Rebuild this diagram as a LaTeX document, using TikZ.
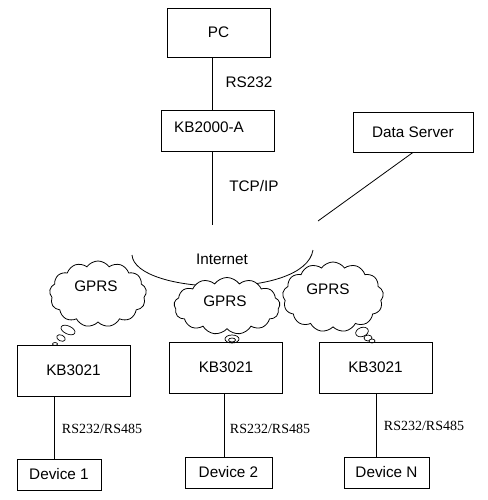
\documentclass[tikz,border=0pt]{standalone}
\usepackage{fontspec}
\setmainfont{Liberation Sans}
\newfontfamily\serifrs{Liberation Serif}
\usetikzlibrary{shapes.symbols,shapes.geometric}
\tikzset{
  boxnode/.style={draw, line width=0.8pt, inner sep=0pt, font=\fontsize{15.3}{17}\selectfont},
  lbl/.style={inner sep=0pt, font=\fontsize{15.3}{17}\selectfont},
  rslbl/.style={inner sep=0pt, font=\serifrs\fontsize{14}{16}\selectfont},
  conn/.style={line width=0.8pt},
  gprs/.style={cloud, cloud puffs=13, cloud puff arc=110, cloud ignores aspect, draw, line width=0.8pt, fill=white, inner sep=0pt, font=\fontsize{15.3}{17}\selectfont},
  bubble/.style={draw, line width=0.7pt, ellipse, fill=white, inner sep=0pt}
}
\begin{document}
\begin{tikzpicture}[x=1pt,y=-1pt]
\useasboundingbox[fill=white] (0,0) rectangle (487,500);
% top boxes
\node[boxnode, minimum width=103pt, minimum height=49pt] (pc) at (218.5,32.5) {PC};
\node[boxnode, minimum width=113pt, minimum height=41pt] (kba) at (217.5,130.5) {};
\node[lbl] (kbatext) at (209,127) {KB2000-A};
\node[boxnode, minimum width=120pt, minimum height=40pt] (ds) at (413,132) {Data Server};
\coordinate (xpc) at (212,0);
\coordinate (netl) at (212,225);
\coordinate (netr) at (318,221);
\draw[conn] (pc.south -| xpc) -- (kba.north -| xpc);
\draw[conn] (kba.south -| xpc) -- (netl);
\draw[conn] (ds.south) -- (netr);
\node[lbl] (rs232) at (249,82) {RS232};
\node[lbl] (tcpip) at (254,186) {TCP/IP};
% internet
\coordinate (il) at (132,255);
\coordinate (ir) at (313,250);
\draw[conn] (il) .. controls (135,295) and (305,300) .. (ir);
\node[lbl] (inet) at (222,259) {Internet};
% clouds
\node[gprs, minimum width=97pt, minimum height=66pt] (c1) at (98,294) {};
\node[lbl] (g1) at (96,286) {GPRS};
\node[gprs, minimum width=106pt, minimum height=57pt] (c2) at (227,306) {};
\node[lbl] (g2) at (225,301) {GPRS};
\node[gprs, minimum width=101pt, minimum height=70pt] (c3) at (333,297) {};
\node[lbl] (g3) at (328,289) {GPRS};
% thought bubbles
\node[bubble, minimum width=15pt, minimum height=8pt, rotate=-25] (b1a) at (68,330) {};
\node[bubble, minimum width=9pt, minimum height=6pt, rotate=-25] (b1b) at (61,338) {};
\node[bubble, minimum width=5pt, minimum height=3pt] (b1c) at (55,344) {};
\node[bubble, minimum width=14pt, minimum height=8pt] (b2a) at (232,339) {};
\node[bubble, minimum width=7pt, minimum height=4pt] (b2b) at (232,340) {};
\node[bubble, minimum width=13pt, minimum height=9pt, rotate=20] (b3a) at (362,332) {};
\node[bubble, minimum width=8pt, minimum height=6pt] (b3b) at (368,338) {};
\node[bubble, minimum width=6pt, minimum height=4pt] (b3c) at (372,341) {};
% KB3021 boxes
\node[boxnode, minimum width=113pt, minimum height=51pt] (k1) at (73.5,370.5) {KB3021};
\node[boxnode, minimum width=113pt, minimum height=51pt] (k2) at (226,367.5) {KB3021};
\node[boxnode, minimum width=113pt, minimum height=51pt] (k3) at (375.5,367.5) {KB3021};
% devices
\node[boxnode, minimum width=84pt, minimum height=31pt] (d1) at (59,474.5) {Device 1};
\node[boxnode, minimum width=87pt, minimum height=31pt] (d2) at (228.5,472.5) {Device 2};
\node[boxnode, minimum width=85pt, minimum height=31pt] (d3) at (386.5,472.5) {Device N};
\coordinate (x1) at (54,0);
\coordinate (x2) at (224,0);
\coordinate (x3) at (376,0);
\draw[conn] (k1.south -| x1) -- (d1.north -| x1);
\draw[conn] (k2.south -| x2) -- (d2.north -| x2);
\draw[conn] (k3.south -| x3) -- (d3.north -| x3);
\node[rslbl] (r1) at (102,429) {RS232/RS485};
\node[rslbl] (r2) at (270,429) {RS232/RS485};
\node[rslbl] (r3) at (424,426) {RS232/RS485};
\end{tikzpicture}
\end{document}
